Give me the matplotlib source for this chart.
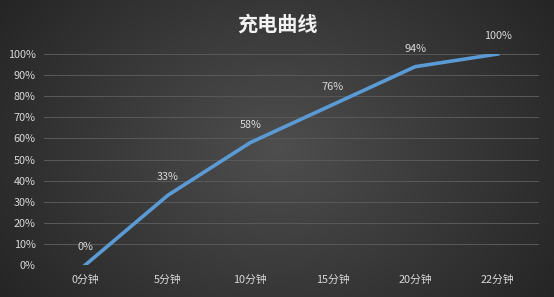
import numpy as np
import matplotlib
matplotlib.use("Agg")
import matplotlib.pyplot as plt

plt.rcParams['font.family'] = ['Noto Sans CJK SC', 'DejaVu Sans']

categories = ["0分钟", "5分钟", "10分钟", "15分钟", "20分钟", "22分钟"]
values = [0, 33, 58, 76, 94, 100]
y_ticks = list(range(0, 101, 10))
title = "充电曲线"

W, H = 554, 297
fig = plt.figure(figsize=(W / 100, H / 100), dpi=100)

# radial gradient background
bg = fig.add_axes([0, 0, 1, 1], zorder=-2)
yy, xx = np.mgrid[0:H, 0:W]
cx, cy = W * 0.5, H * 0.5
r = np.sqrt(((xx - cx) / (W * 0.62)) ** 2 + ((yy - cy) / (H * 0.9)) ** 2)
r = np.clip(r, 0, 1)
inner = np.array([0x4e, 0x4e, 0x4e]) / 255
outer = np.array([0x24, 0x24, 0x24]) / 255
img = inner[None, None, :] * (1 - r[..., None]) + outer[None, None, :] * r[..., None]
bg.imshow(img, aspect='auto', extent=[0, 1, 0, 1], origin='upper')
bg.axis('off')

ax = fig.add_axes([44 / W, 1 - 265 / H, (539 - 44) / W, (265 - 54) / H])
ax.patch.set_alpha(0)
x = np.arange(len(categories))
ax.plot(x, values, color='#5B9BD5', lw=2.6, solid_joinstyle='round', zorder=3)
for xi, v in zip(x, values):
    ax.annotate(f"{v}%", (xi, v), xytext=(0, 13), textcoords='offset points',
                ha='center', va='center', fontsize=7.8, color='#d9d9d9')

ax.set_xlim(-0.5, len(categories) - 0.5)
ax.set_ylim(0, 100)
ax.set_yticks(y_ticks)
ax.set_yticklabels([f"{t}%" for t in y_ticks])
ax.set_xticks(x)
ax.set_xticklabels(categories)
ax.tick_params(axis='both', length=0, colors='#d9d9d9', labelsize=7.8)
ax.tick_params(axis='y', pad=6)
ax.tick_params(axis='x', pad=7)
for s in ax.spines.values():
    s.set_visible(False)
ax.grid(axis='y', color='#585858', lw=0.75)
ax.set_axisbelow(True)

fig.text(0.5, 1 - 24 / H, title, ha='center', va='center', fontsize=14.5,
         color='#f2f2f2', fontweight='bold')

fig.savefig('out.png', dpi=100)
